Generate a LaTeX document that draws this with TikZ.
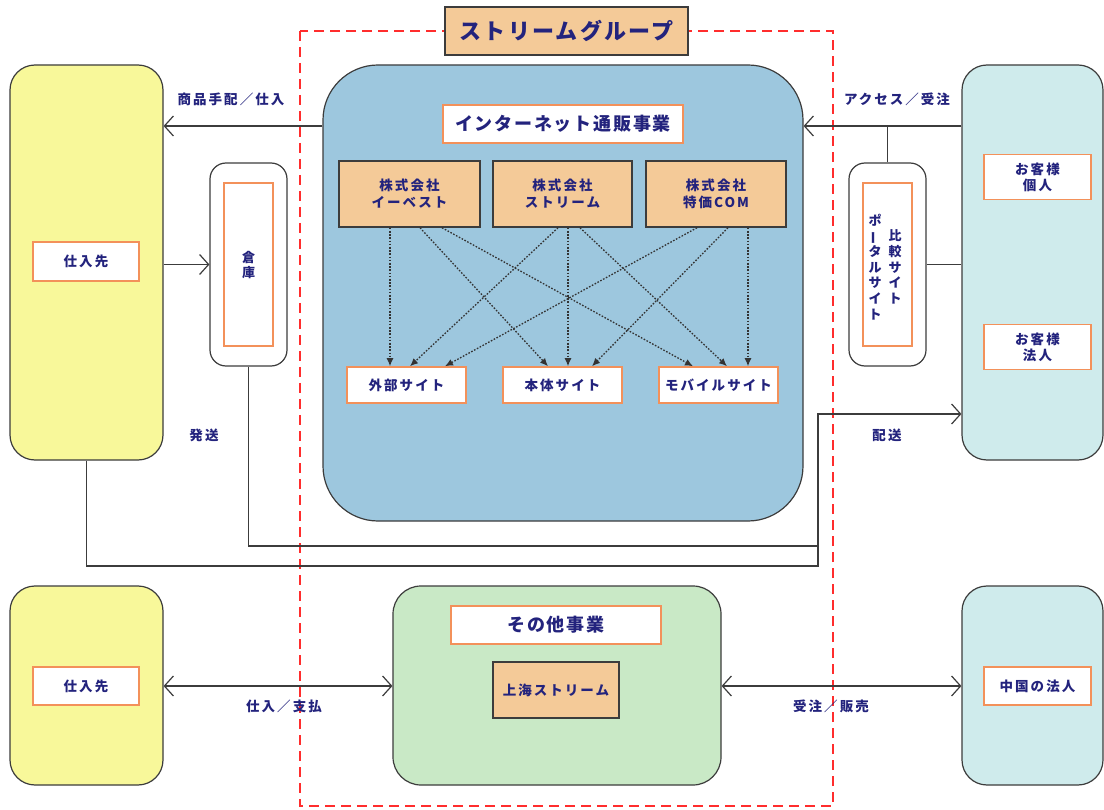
\documentclass[tikz,border=0pt]{standalone}
\usepackage{fontspec}
\usepackage{graphicx}
\setmainfont{Noto Sans CJK JP}
\newfontfamily\lblfont{Noto Sans CJK JP}[LetterSpace=15]
\newfontfamily\hdfont{Noto Sans CJK JP}[LetterSpace=10]
\usetikzlibrary{arrows.meta}
\definecolor{navy}{RGB}{35,35,125}
\definecolor{peach}{RGB}{244,202,152}
\definecolor{orng}{RGB}{243,145,90}
\definecolor{blu}{RGB}{157,199,222}
\definecolor{yel}{RGB}{248,248,154}
\definecolor{cya}{RGB}{207,235,236}
\definecolor{grn}{RGB}{201,233,198}
\definecolor{redd}{RGB}{255,45,45}
\definecolor{edge}{RGB}{60,60,60}
\newcommand\vchoon{\rotatebox[origin=c]{90}{ー}}
\tikzset{
  big/.style={draw=edge, line width=1.2pt, inner sep=0pt},
  wbox/.style={draw=orng, fill=white, line width=1.5pt, inner sep=0pt, text=navy, align=center,
    font=\lblfont\bfseries\fontsize{13.5}{16}\selectfont},
  hbox/.style={wbox, font=\hdfont\bfseries\fontsize{18}{20}\selectfont},
  pbox/.style={draw=edge, fill=peach, line width=1.5pt, inner sep=0pt, text=navy, align=center,
    font=\lblfont\bfseries\fontsize{13.5}{17}\selectfont},
  lbl/.style={inner sep=0pt, text=navy, font=\lblfont\bfseries\fontsize{13.5}{16}\selectfont},
  vtxt/.style={inner sep=0pt, text=navy, align=center, font=\bfseries\fontsize{13}{15.6}\selectfont},
  arr/.style={draw=edge, line width=1.2pt, -{Straight Barb[length=9pt,width=20pt,line width=1.2pt]}},
  darr/.style={draw=edge, line width=1.2pt, {Straight Barb[length=9pt,width=20pt,line width=1.2pt]}-{Straight Barb[length=9pt,width=20pt,line width=1.2pt]}},
  ln/.style={draw=edge, line width=1.2pt},
  dots/.style={draw=black!80, line width=1.3pt, dash pattern=on 1.6pt off 1.6pt, -{Latex[length=8pt,width=7pt]}},
  frame/.style={draw=redd, line width=2pt, dash pattern=on 10pt off 6pt},
}
\begin{document}
\begin{tikzpicture}[x=1pt,y=-1pt]
\useasboundingbox (0,0) rectangle (1104,810);

% group frame
\draw[frame] (300,31) rectangle (833,806);
\node[pbox, minimum width=243pt, minimum height=48pt, font=\hdfont\bfseries\fontsize{22}{24}\selectfont] (title) at (566.5,31) {ストリームグループ};

% left top supplier
\node[big, fill=yel, rounded corners=25pt, minimum width=153pt, minimum height=395pt] (yel1) at (86.5,262.5) {};
\node[wbox, minimum width=106pt, minimum height=39pt] (shiire1) at (86,261.5) {仕入先};

% warehouse
\node[big, fill=white, rounded corners=16pt, minimum width=77pt, minimum height=203pt] (soko) at (248.5,264.5) {};
\node[wbox, minimum width=49pt, minimum height=163pt] (sokoin) at (248.5,264.5) {};
\node[vtxt] (sokotxt) at (248.5,265) {倉\\庫};

% internet business
\node[big, fill=blu, rounded corners=55pt, minimum width=480pt, minimum height=456pt] (blue) at (563,293) {};
\node[hbox, minimum width=240pt, minimum height=38pt] (inet) at (563,124) {インターネット通販事業};
\node[pbox, minimum width=141pt, minimum height=66pt] (c1) at (409.5,194) {株式会社\\イーベスト};
\node[pbox, minimum width=139pt, minimum height=66pt] (c2) at (562.5,194) {株式会社\\ストリーム};
\node[pbox, minimum width=140pt, minimum height=66pt] (c3) at (716,194) {株式会社\\特価COM};
\node[wbox, minimum width=119pt, minimum height=36pt] (s1) at (406.5,385) {外部サイト};
\node[wbox, minimum width=119pt, minimum height=36pt] (s2) at (562.5,385) {本体サイト};
\node[wbox, minimum width=119pt, minimum height=36pt] (s3) at (718.5,385) {モバイルサイト};

\draw[dots] ([xshift=-19.5pt]c1.south) -- ([xshift=-16.5pt]s1.north);
\draw[dots] ([xshift=10.5pt]c1.south) -- ([xshift=-14.5pt]s2.north);
\draw[dots] ([xshift=32.5pt]c1.south) -- ([xshift=-25.5pt]s3.north);
\draw[dots] ([xshift=-4.5pt]c2.south) -- ([xshift=3.5pt]s1.north);
\draw[dots] ([xshift=5.5pt]c2.south) -- ([xshift=5.5pt]s2.north);
\draw[dots] ([xshift=17.5pt]c2.south) -- ([xshift=8.5pt]s3.north);
\draw[dots] ([xshift=-19pt]c3.south) -- ([xshift=38.5pt]s1.north);
\draw[dots] ([xshift=12pt]c3.south) -- ([xshift=29.5pt]s2.north);
\draw[dots] ([xshift=32pt]c3.south) -- ([xshift=29.5pt]s3.north);

% customers
\node[big, fill=cya, rounded corners=25pt, minimum width=141pt, minimum height=395pt] (cya1) at (1032.5,262.5) {};
\node[wbox, minimum width=107pt, minimum height=45pt] (kojin) at (1037.5,177) {お客様\\個人};
\node[wbox, minimum width=107pt, minimum height=45pt] (houjin) at (1037.5,347) {お客様\\法人};

% portal
\node[big, fill=white, rounded corners=16pt, minimum width=77pt, minimum height=203pt] (portal) at (887.5,264.5) {};
\node[wbox, minimum width=49pt, minimum height=163pt] (portalin) at (887.5,264.5) {};
\node[vtxt] (ptR) at (895,267) {比\\較\\サ\\イ\\ト};
\node[vtxt] (ptL) at (875,267) {ポ\\\vchoon\\タ\\ル\\サ\\イ\\ト};

% top connectors
\coordinate (ya) at (0,126);
\coordinate (yd) at (0,414);
\coordinate (jn) at (818,566);
\coordinate (jn2) at (818,546);
\draw[arr] (blue.west |- ya) -- (yel1.east |- ya);
\node[lbl] (l1) at (231,99) {商品手配／仕入};
\draw[arr] (cya1.west |- ya) -- (blue.east |- ya);
\node[lbl] (l2) at (897,99) {アクセス／受注};
\draw[ln] (portal.north) -- (portal.north |- ya);
\draw[ln] (portal.east) -- (cya1.west |- portal.east);
\draw[arr] (yel1.east |- soko.west) -- (soko.west);

% delivery
\draw[ln] (soko.south) |- (jn2);
\draw[arr] (yel1.south) |- (jn) -- (jn |- yd) -- (cya1.west |- yd);
\node[lbl] (l3) at (204,435) {発送};
\node[lbl] (l4) at (887,435) {配送};

% bottom row
\node[big, fill=yel, rounded corners=25pt, minimum width=153pt, minimum height=199pt] (yel2) at (86.5,685.5) {};
\node[wbox, minimum width=106pt, minimum height=38pt] (shiire2) at (86,686) {仕入先};
\node[big, fill=grn, rounded corners=28pt, minimum width=328pt, minimum height=199pt] (green) at (557,685.5) {};
\node[hbox, minimum width=210pt, minimum height=38pt] (sonota) at (556,625) {その他事業};
\node[pbox, minimum width=126pt, minimum height=56pt] (shanghai) at (556,690) {上海ストリーム};
\node[big, fill=cya, rounded corners=25pt, minimum width=141pt, minimum height=199pt] (cya2) at (1032.5,685.5) {};
\node[wbox, minimum width=107pt, minimum height=38pt] (china) at (1037.5,686) {中国の法人};

\draw[darr] (yel2.east |- shiire2.east) -- (green.west |- shiire2.east);
\node[lbl] (l5) at (284,706) {仕入／支払};
\draw[darr] (green.east |- china.west) -- (cya2.west |- china.west);
\node[lbl] (l6) at (831,706) {受注／販売};
\end{tikzpicture}
\end{document}
